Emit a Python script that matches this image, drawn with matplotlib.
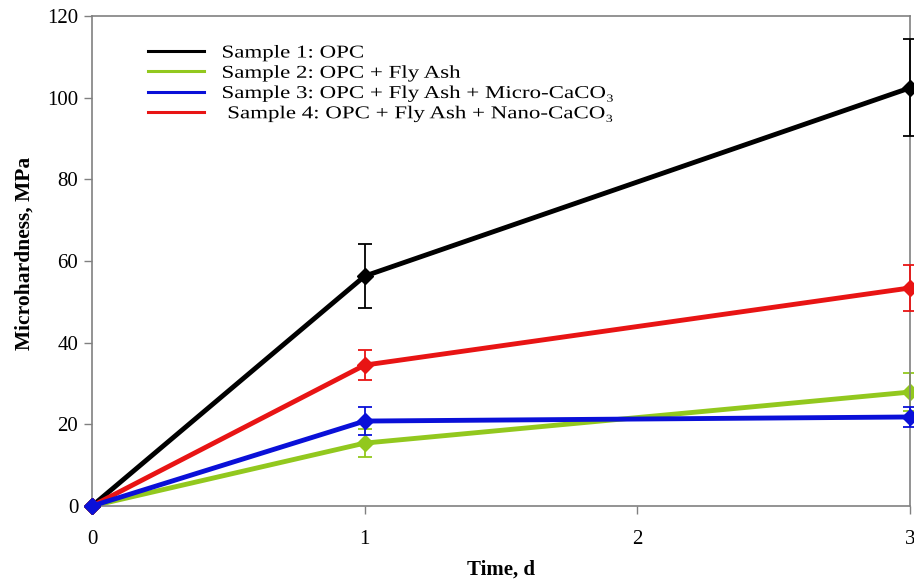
import matplotlib.pyplot as plt
from matplotlib.patheffects import AbstractPathEffect
from matplotlib.transforms import Affine2D

plt.rcParams['font.family'] = ['Liberation Serif', 'DejaVu Serif']


class Stretch(AbstractPathEffect):
    """Widen text horizontally about its own origin (the reference font is wide)."""
    def __init__(self, sx=1.0):
        super().__init__()
        self.sx = sx

    def draw_path(self, renderer, gc, tpath, affine, rgbFace=None):
        m = affine.get_matrix()
        x0, y0 = m[0, 2], m[1, 2]
        wide = affine + Affine2D().translate(-x0, -y0).scale(self.sx, 1).translate(x0, y0)
        renderer.draw_path(gc, tpath, wide, rgbFace)


# Time in days
days = [0, 1, 3]

# Microhardness (MPa) and error bars
labels = ['Sample 1: OPC',
          'Sample 2: OPC + Fly Ash',
          'Sample 3: OPC + Fly Ash + Micro-CaCO\u2083',
          ' Sample 4: OPC + Fly Ash + Nano-CaCO\u2083']
opc = [0, 56.3, 102.4]
opc_err = [0, 7.9, 11.9]
fly_ash = [0, 15.4, 27.9]
fly_ash_err = [0, 3.4, 4.6]
micro = [0, 20.8, 21.8]
micro_err = [0, 3.4, 2.4]
nano = [0, 34.5, 53.4]
nano_err = [0, 3.6, 5.6]

colors = ['#000000', '#92c81e', '#0a10d8', '#e81414']
series = [opc, fly_ash, micro, nano]
errors = [opc_err, fly_ash_err, micro_err, nano_err]
zorders = [3, 2, 5, 4]

fig = plt.figure(figsize=(9.14, 5.82), dpi=100)
ax = fig.add_axes([0.1007, 0.1306, 0.8949, 0.8419])

handles = []
for vals, errs, c, lab, z in zip(series, errors, colors, labels, zorders):
    ax.errorbar(days, vals, yerr=errs, color=c, lw=1.3, capsize=5, capthick=1.3,
                fmt='none', zorder=z, clip_on=False)
    ax.plot(days, vals, color=c, lw=3.5, marker='D', markersize=8,
            zorder=z, clip_on=False)
    handles.append(plt.Line2D([], [], color=c, lw=2.2))

ax.set_xlim(0, 3)
ax.set_ylim(0, 120)
ax.set_xticks([0, 1, 2, 3])
ax.set_yticks(range(0, 121, 20))

for s in ax.spines.values():
    s.set_color('#808080')
    s.set_linewidth(1.2)

ax.tick_params(axis='both', direction='out', length=6, width=1, color='#808080',
               labelsize=15, pad=4)
ax.tick_params(axis='x', pad=11)

ax.set_xlabel('Time, d', fontsize=15, fontweight='bold', labelpad=8)
ax.set_ylabel('Microhardness, MPa', fontsize=15.5, fontweight='bold')
ax.yaxis.set_label_coords(-0.07, 0.515)

leg = ax.legend(handles, labels, loc='upper left', bbox_to_anchor=(0.049, 0.975),
                frameon=False, fontsize=13, handlelength=3.1, handletextpad=0.95,
                labelspacing=0.18)
for t in leg.get_texts():
    t.set_path_effects([Stretch(1.27)])

fig.savefig('out.png', dpi=100)
